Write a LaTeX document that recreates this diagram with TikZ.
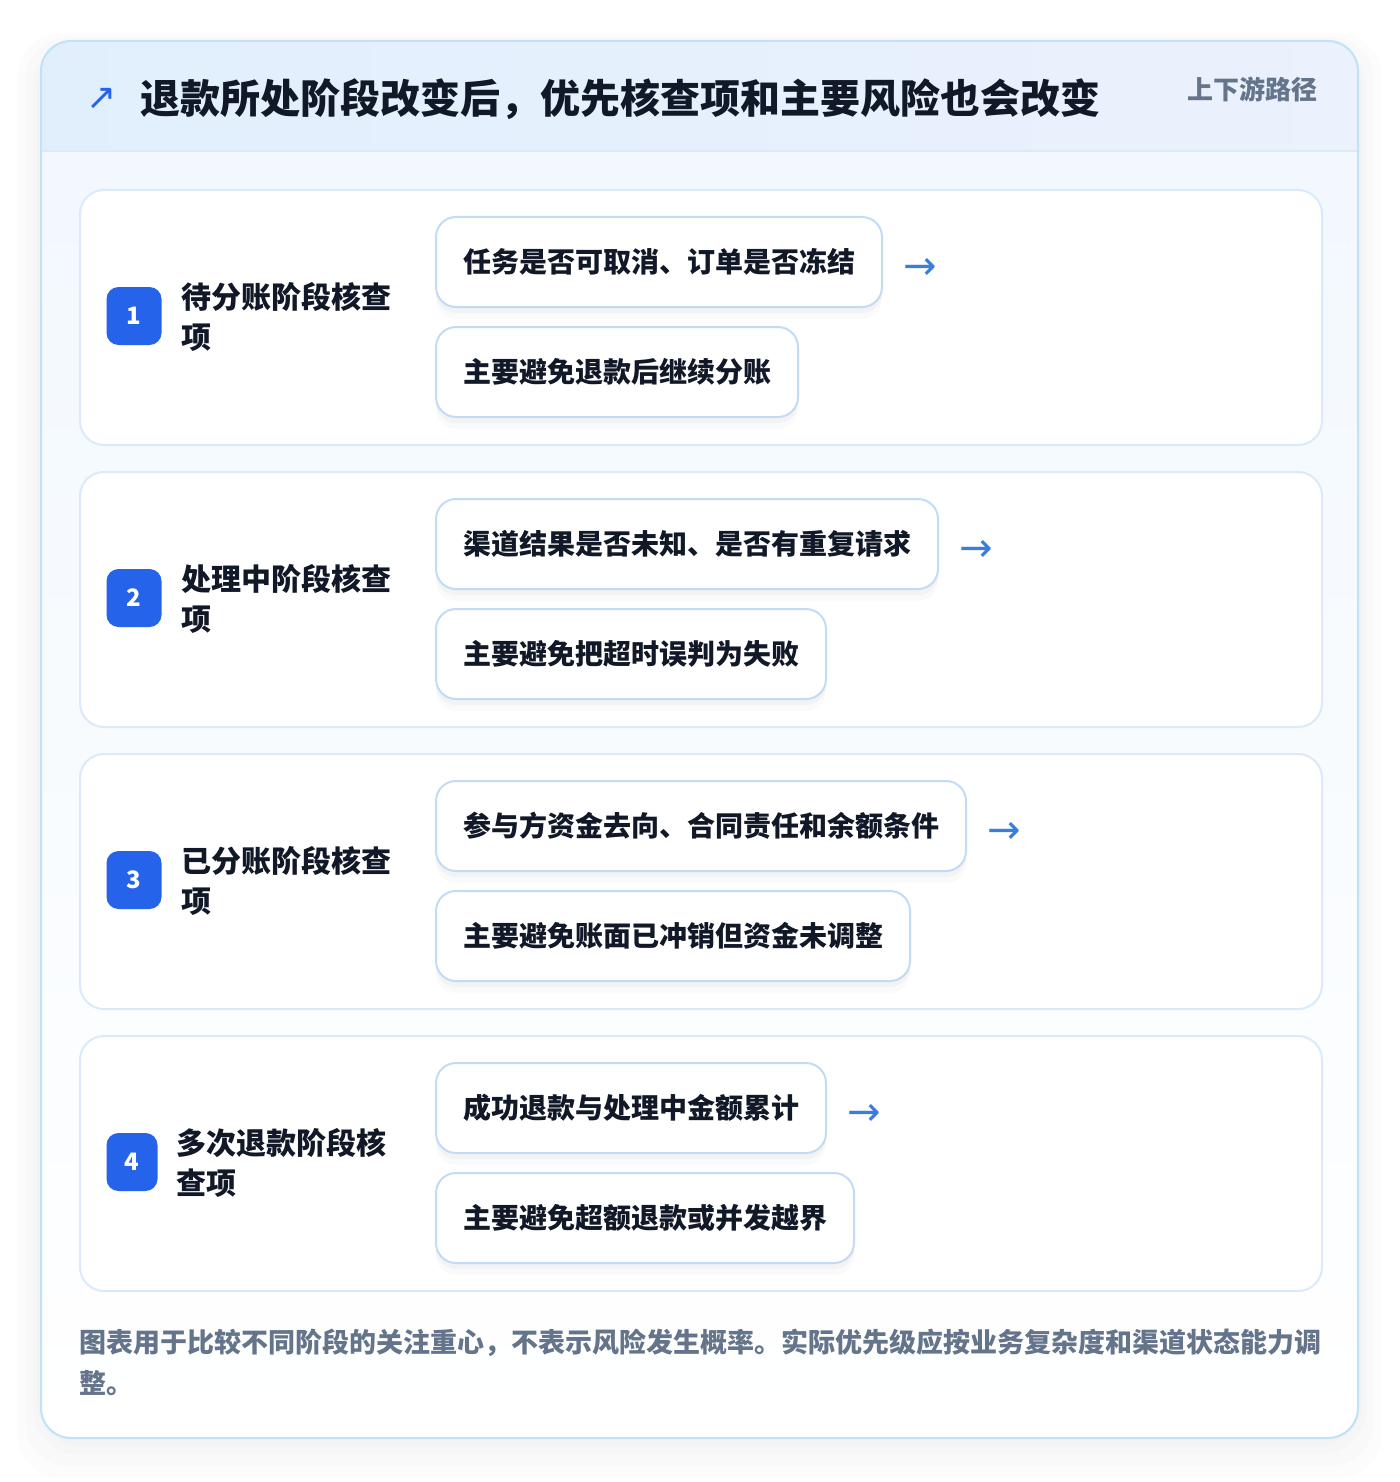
\documentclass[tikz,border=0pt]{standalone}
\usepackage{fontspec}
\setmainfont{Noto Sans CJK SC}
\newfontfamily\symfont{DejaVu Sans}
\usetikzlibrary{positioning}
\definecolor{cardline}{HTML}{BFE2F6}
\definecolor{headleft}{HTML}{E1EFFD}
\definecolor{headright}{HTML}{EBF1FD}
\definecolor{bodytop}{HTML}{F2F8FE}
\definecolor{stageline}{HTML}{DAEAFA}
\definecolor{itemline}{HTML}{C4DBF6}
\definecolor{badgeblue}{HTML}{2563EB}
\definecolor{arrowblue}{HTML}{3B7DDD}
\definecolor{inkdark}{HTML}{111827}
\definecolor{inkgray}{HTML}{64748B}
\definecolor{shadowgray}{HTML}{8A94A6}

\tikzset{
  stagecard/.style={draw=stageline, line width=1pt, fill=white, rounded corners=12pt,
    minimum width=621pt, minimum height=127.5pt, anchor=north west, inner sep=0pt},
  badge/.style={fill=badgeblue, rounded corners=6pt, minimum width=27.5pt, minimum height=29pt,
    inner sep=0pt, text=white, font=\bfseries\fontsize{12pt}{14pt}\selectfont},
  stagelabel/.style={anchor=west, align=left, text=inkdark, inner sep=0pt,
    font=\bfseries\fontsize{15pt}{20pt}\selectfont},
  itembox/.style={draw=itemline, line width=1pt, fill=white, rounded corners=10pt,
    minimum height=45pt, inner xsep=13.5pt, anchor=west, text=inkdark,
    font=\bfseries\fontsize{14pt}{16pt}\selectfont,
    preaction={fill=shadowgray, fill opacity=0.07, draw=none, transform canvas={yshift=-3pt}},
    preaction={fill=shadowgray, fill opacity=0.04, draw=none, transform canvas={yshift=-6pt}}},
  nextarrow/.style={text=arrowblue, inner sep=0pt, yshift=-3.5pt,
    font=\symfont\fontsize{20pt}{20pt}\selectfont},
  cardshadow/.style={fill=shadowgray, fill opacity=0.025, rounded corners=22pt}
}

\begin{document}
\begin{tikzpicture}[x=0.5pt, y=-0.5pt]
\useasboundingbox (0,0) rectangle (1400,1482);
\fill[white] (0,0) rectangle (1400,1482);

% outer card with its soft shadow
\fill[cardshadow] (17,33) rectangle (1382,1478);
\fill[cardshadow] (25,37) rectangle (1374,1466);
\fill[cardshadow] (33,41) rectangle (1366,1454);
\fill[cardshadow] (37,41) rectangle (1362,1446);
\shade[left color=headleft, right color=headright]
  (41,151) [rounded corners=15pt] -- (41,41) -- (1358,41) [sharp corners] -- (1358,151) -- cycle;
\shade[top color=bodytop, bottom color=white]
  (41,151) [rounded corners=15pt] -- (41,1438) -- (1358,1438) [sharp corners] -- (1358,151) -- cycle;
\draw[stageline, line width=1pt] (41,151) -- (1358,151);
\draw[cardline, line width=1pt, rounded corners=15pt] (41,41) rectangle (1358,1438);

% header
\node[text=badgeblue, inner sep=0pt, font=\symfont\fontsize{18pt}{18pt}\selectfont] (trend) at (102,99) {↗};
\node[anchor=west, inner sep=0pt, text=inkdark, font=\bfseries\fontsize{20pt}{24pt}\selectfont] (title) at (140,99)
  {退款所处阶段改变后，优先核查项和主要风险也会改变};
\node[anchor=east, inner sep=0pt, text=inkgray, font=\bfseries\fontsize{13pt}{15pt}\selectfont] (path) at (1318,89) {上下游路径};

% stage 1
\node[stagecard] (c1) at (79,189) {};
\node[badge] (b1) at (134,316) {1};
\node[stagelabel] (l1) at (181,317) {待分账阶段核查\\项};
\node[itembox] (c1a) at (435,262) {任务是否可取消、订单是否冻结};
\node[itembox] (c1b) at (435,372) {主要避免退款后继续分账};
\node[nextarrow, right=10pt of c1a] (n1) {→};

% stage 2
\node[stagecard] (c2) at (79,471) {};
\node[badge] (b2) at (134,598) {2};
\node[stagelabel] (l2) at (181,599) {处理中阶段核查\\项};
\node[itembox] (c2a) at (435,544) {渠道结果是否未知、是否有重复请求};
\node[itembox] (c2b) at (435,654) {主要避免把超时误判为失败};
\node[nextarrow, right=10pt of c2a] (n2) {→};

% stage 3
\node[stagecard] (c3) at (79,753) {};
\node[badge] (b3) at (134,880) {3};
\node[stagelabel] (l3) at (181,881) {已分账阶段核查\\项};
\node[itembox] (c3a) at (435,826) {参与方资金去向、合同责任和余额条件};
\node[itembox] (c3b) at (435,936) {主要避免账面已冲销但资金未调整};
\node[nextarrow, right=10pt of c3a] (n3) {→};

% stage 4
\node[stagecard] (c4) at (79,1035) {};
\node[badge, minimum width=25.5pt] (b4) at (132,1162) {4};
\node[stagelabel] (l4) at (176,1163) {多次退款阶段核\\查项};
\node[itembox] (c4a) at (435,1108) {成功退款与处理中金额累计};
\node[itembox] (c4b) at (435,1218) {主要避免超额退款或并发越界};
\node[nextarrow, right=10pt of c4a] (n4) {→};

% footnote
\node[anchor=north west, align=left, inner sep=0pt, text=inkgray, font=\bfseries\fontsize{13.5pt}{20.5pt}\selectfont] (note) at (79,1329)
  {图表用于比较不同阶段的关注重心，不表示风险发生概率。实际优先级应按业务复杂度和渠道状态能力调\\整。};
\end{tikzpicture}
\end{document}
